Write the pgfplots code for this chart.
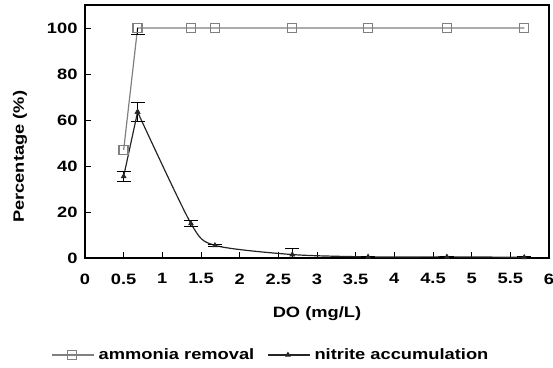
\documentclass[border=0pt]{standalone}
\usepackage{pgfplots}
\pgfplotsset{compat=1.18}
\usepackage{fontspec}
\setmainfont{Liberation Sans}[FakeStretch=1.22]
\begin{document}
\begin{tikzpicture}
\begin{axis}[
  name=ax,
  scale only axis,
  width=464pt, height=253pt,
  xmin=0, xmax=6, ymin=0, ymax=110,
  xtick={0,0.5,...,6},
  xticklabels={0,0.5,1,1.5,2,2.5,3,3.5,4,4.5,5,5.5,6},
  ytick={0,20,40,60,80,100},
  tick align=inside,
  xtick pos=bottom, ytick pos=left,
  major tick length=6pt,
  tick style={line width=1pt, black},
  /pgf/number format/assume math mode=true,
  tick label style={font=\fontsize{15}{17}\selectfont\bfseries},
  xticklabel style={yshift=-12pt},
  yticklabel style={xshift=-4pt},
  label style={font=\fontsize{15}{17}\selectfont\bfseries},
  xlabel={DO (mg/L)},
  ylabel={Percentage (\%)},
  xlabel style={at={(axis description cs:0.5,-0.22)}, anchor=center},
  ylabel style={at={(axis description cs:-0.140,0.40)}, anchor=center},
  axis line style={line width=1.4pt},
  legend style={at={(axis description cs:0.403,-0.383)}, anchor=center, draw=none, legend columns=2,
    font=\fontsize{15}{17}\selectfont\bfseries, /tikz/every even column/.append style={column sep=9pt},
    inner sep=0pt, nodes={inner xsep=4pt}},
  legend cell align=left,
  legend image code/.code={\draw[mark repeat=2,mark phase=2,#1] plot coordinates {(0pt,0pt) (20pt,0pt) (42pt,0pt)};},
]
\addplot[gray, line width=1.2pt, mark=square, mark size=4.5pt, mark options={fill=white, line width=1.4pt},
  error bars/.cd, y dir=both, y explicit, error bar style={black, line width=0.9pt}, error mark options={rotate=90, mark size=7pt, black, line width=0.9pt}]
  coordinates {
  (0.5,47)
  (0.68,100) -= (0,3)
  (1.37,100)
  (1.68,100)
  (2.68,100)
  (3.66,100)
  (4.68,100)
  (5.68,100)
  };
\addlegendentry{ammonia removal}
\addplot[black!85, line width=1.2pt, smooth, tension=0.45, mark=triangle*, mark size=2.2pt, mark options={solid},
  error bars/.cd, y dir=both, y explicit, error bar style={black, line width=0.9pt}, error mark options={rotate=90, mark size=7pt, black, line width=0.9pt}]
  coordinates {
  (0.68,63.5) +- (0,4)
  (1.37,15) +- (0,1.2)
  (1.68,5.5) +- (0,0.6)
  (2.68,1.5) +- (0,2.8)
  (3.66,0.5) +- (0,0.3)
  (4.68,0.5) +- (0,0.3)
  (5.68,0.3) +- (0,0.3)
  };
\addlegendentry{nitrite accumulation}
\addplot[forget plot, black!85, line width=1.2pt, mark=triangle*, mark size=2.2pt,
  error bars/.cd, y dir=both, y explicit, error bar style={black, line width=0.9pt}, error mark options={rotate=90, mark size=7pt, black, line width=0.9pt}]
  coordinates {
  (0.5,35.5) +- (0,2.3)
  (0.68,63.5)
  };
\end{axis}
\pgfresetboundingbox
\path ([xshift=-85pt,yshift=-109pt]ax.south west) rectangle ([xshift=4pt,yshift=5pt]ax.north east);
\end{tikzpicture}
\end{document}
